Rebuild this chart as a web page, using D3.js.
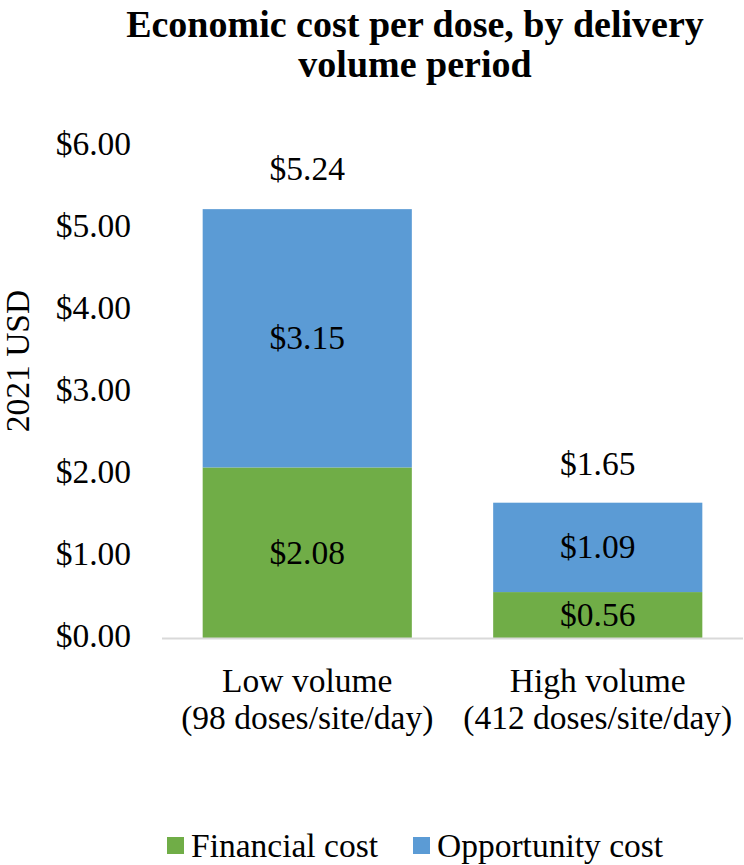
<!DOCTYPE html>
<html>
<head>
<meta charset="utf-8">
<script src="https://cdn.jsdelivr.net/npm/d3@7"></script>
<style>
  body { margin: 0; background: #fff; }
  svg text { font-family: "Liberation Serif", "Times New Roman", Times, serif; fill: #000; }
</style>
</head>
<body>
<div id="vis"></div>
<script>
var categories = ["Low volume|(98 doses/site/day)", "High volume|(412 doses/site/day)"];
var financial = [2.08, 0.56];
var opportunity = [3.15, 1.09];
var totals = [5.24, 1.65];
var seriesNames = ["Financial cost", "Opportunity cost"];
var yTicks = [0, 1, 2, 3, 4, 5, 6];

var width = 744, height = 865;
var fs = "33.5px";
var colors = { "Financial cost": "#70AD47", "Opportunity cost": "#5B9BD5" };

var svg = d3.select("#vis").append("svg")
    .attr("width", width)
    .attr("height", height);

svg.append("rect").attr("width", width).attr("height", height).attr("fill", "#fff");

var x = d3.scaleBand()
    .domain(categories)
    .range([162, 743])
    .paddingInner(0.28)
    .paddingOuter(0.14);

var y = d3.scaleLinear()
    .domain([0, 6])
    .range([638, 146]);

var rows = categories.map(function(c, i) {
  return { cat: c, "Financial cost": financial[i], "Opportunity cost": opportunity[i], total: totals[i] };
});

var stack = d3.stack().keys(seriesNames)(rows);

// title
var title = svg.append("text")
    .attr("text-anchor", "middle")
    .style("font-weight", "bold")
    .style("font-size", "38px");
title.append("tspan").attr("x", 415).attr("y", 37).text("Economic cost per dose, by delivery");
title.append("tspan").attr("x", 415).attr("y", 77).text("volume period");

// y axis title
svg.append("text")
    .attr("transform", "translate(29,361) rotate(-90)")
    .attr("text-anchor", "middle")
    .style("font-size", fs)
    .text("2021 USD");

// y tick labels
svg.selectAll(".ytick")
  .data(yTicks).enter()
  .append("text")
    .attr("class", "ytick")
    .attr("x", 131)
    .attr("y", function(d) { return y(d) + 9; })
    .attr("text-anchor", "end")
    .style("font-size", fs)
    .text(function(d) { return "$" + d.toFixed(2); });

// bars
var layer = svg.selectAll(".layer")
  .data(stack).enter()
  .append("g")
    .attr("class", "layer")
    .attr("fill", function(d) { return colors[d.key]; });

layer.selectAll("rect")
  .data(function(d) { return d; }).enter()
  .append("rect")
    .attr("x", function(d) { return x(d.data.cat); })
    .attr("width", x.bandwidth())
    .attr("y", function(d) { return y(d[1]); })
    .attr("height", function(d) { return y(d[0]) - y(d[1]); });

// segment labels
layer.selectAll(".seg")
  .data(function(d) { return d.map(function(p) { p.key = d.key; return p; }); }).enter()
  .append("text")
    .attr("class", "seg")
    .attr("x", function(d) { return x(d.data.cat) + x.bandwidth() / 2; })
    .attr("y", function(d) { return (y(d[0]) + y(d[1])) / 2 + 11; })
    .attr("text-anchor", "middle")
    .style("font-size", fs)
    .text(function(d) { return "$" + d.data[d.key].toFixed(2); });

// total labels
svg.selectAll(".total")
  .data(rows).enter()
  .append("text")
    .attr("class", "total")
    .attr("x", function(d) { return x(d.cat) + x.bandwidth() / 2; })
    .attr("y", function(d) { return y(d.total) - 28; })
    .attr("text-anchor", "middle")
    .style("font-size", fs)
    .text(function(d) { return "$" + d.total.toFixed(2); });

// baseline
svg.append("line")
    .attr("x1", 162).attr("x2", 743)
    .attr("y1", y(0) + 0.5).attr("y2", y(0) + 0.5)
    .attr("stroke", "#d9d9d9")
    .attr("stroke-width", 2);

// category labels
var cl = svg.selectAll(".cat")
  .data(categories).enter()
  .append("text")
    .attr("class", "cat")
    .attr("text-anchor", "middle")
    .style("font-size", fs);
cl.append("tspan")
    .attr("x", function(d) { return x(d) + x.bandwidth() / 2; })
    .attr("y", 692)
    .text(function(d) { return d.split("|")[0]; });
cl.append("tspan")
    .attr("x", function(d) { return x(d) + x.bandwidth() / 2; })
    .attr("y", 729)
    .text(function(d) { return d.split("|")[1]; });

// legend
var legendX = [167, 413];
var lg = svg.selectAll(".legend")
  .data(seriesNames).enter()
  .append("g")
    .attr("class", "legend")
    .attr("transform", function(d, i) { return "translate(" + legendX[i] + ",837)"; });
lg.append("rect")
    .attr("width", 17).attr("height", 17)
    .attr("fill", function(d) { return colors[d]; });
lg.append("text")
    .attr("x", 24)
    .attr("y", 20)
    .style("font-size", fs)
    .text(function(d) { return d; });
</script>
</body>
</html>
